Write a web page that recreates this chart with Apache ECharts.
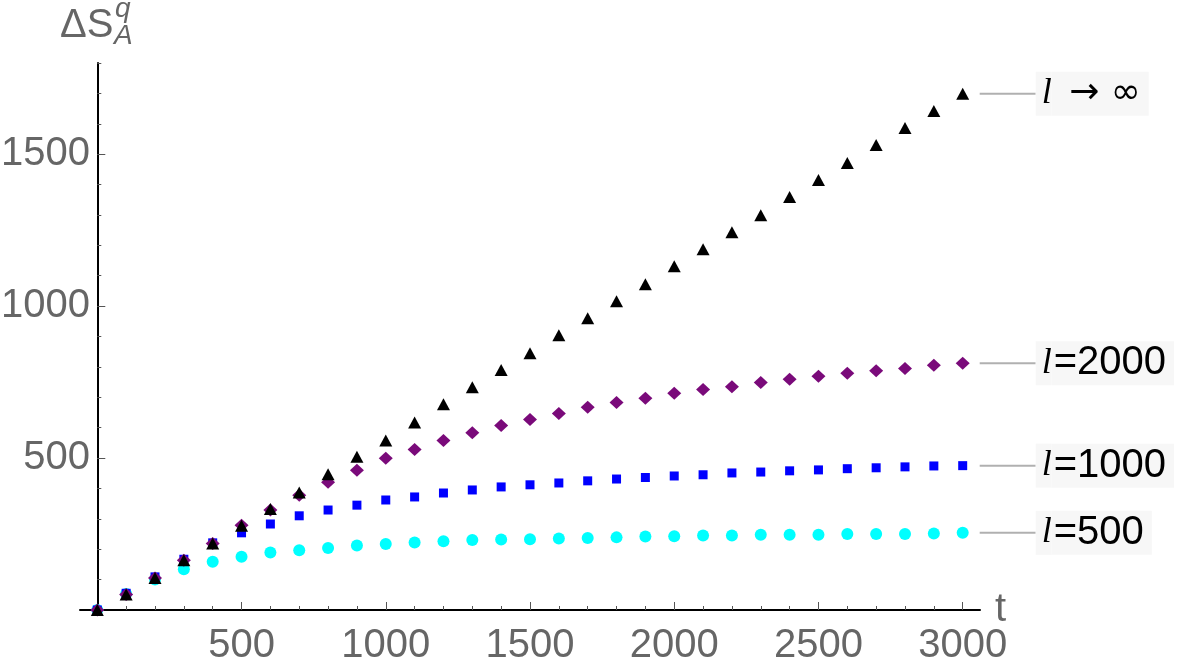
<!DOCTYPE html>
<html>
<head>
<meta charset="utf-8">
<script src="https://cdn.jsdelivr.net/npm/echarts@6/dist/echarts.min.js"></script>
<style>
html,body{margin:0;padding:0;background:#fff;}
#chart{width:1200px;height:667px;}
</style>
</head>
<body>
<div id="chart"></div>
<script>
// ---- data ----
const tValues = [0,100,200,300,400,500,600,700,800,900,1000,1100,1200,1300,1400,1500,1600,1700,1800,1900,2000,2100,2200,2300,2400,2500,2600,2700,2800,2900,3000];

const s500  = [0,53,100,134,159,175,189,197,204,212,217,222,226,230,232,233,235,237,239,242,243,245,245,248,248,248,250,250,250,252,254];
const s1000 = [0,55,109,167,221,254,283,310,329,345,362,372,385,395,405,412,418,425,431,436,441,445,451,454,458,461,465,468,471,474,475];
const s2000 = [0,51,105,164,219,279,329,378,420,460,499,528,558,583,607,627,647,667,683,697,713,726,735,749,759,769,779,787,795,805,812];
const sInf  = [0,51,105,164,219,277,332,387,447,504,558,617,677,733,790,845,904,960,1016,1072,1131,1187,1243,1299,1359,1415,1471,1530,1586,1642,1699];

const xTickLabels = [500,1000,1500,2000,2500,3000];
const yTickLabels = [500,1000,1500];
const seriesLabels = ['=500','=1000','=2000',' \u2192 \u221e'];

// minor tick positions
const xMinor = []; for (let v = 100; v <= 3000; v += 100) xMinor.push(v);
const yMinor = []; for (let v = 100; v <= 1800; v += 100) yMinor.push(v);

const SANS = 'Liberation Sans, Arial, sans-serif';
const SERIF = 'Liberation Serif, Times New Roman, serif';

function buildData(vals) {
  return tValues.map((t, i) => i === tValues.length - 1
    ? { value: [t, vals[i]], label: { show: true } }
    : [t, vals[i]]);
}

const richStyle = {
  ln: { width: 56, height: 2, backgroundColor: '#b0b0b0', verticalAlign: 'middle' },
  li: { fontFamily: SERIF, fontStyle: 'italic', fontSize: 36, color: '#000', backgroundColor: '#f7f7f7', height: 44, padding: [0, 0, 0, 6], verticalAlign: 'middle' },
  tx: { fontFamily: SANS, fontSize: 40, color: '#000', backgroundColor: '#f7f7f7', height: 44, padding: [0, 8, 0, 2], verticalAlign: 'middle' },
  ar: { fontFamily: 'DejaVu Sans', fontSize: 36, color: '#000', backgroundColor: '#f7f7f7', height: 44, padding: [0, 8, 0, 6], verticalAlign: 'middle' }
};

function mkSeries(name, vals, symbol, size, color, distance, labelText, fragStyle) {
  return {
    name: name,
    type: 'scatter',
    xAxisIndex: 0,
    yAxisIndex: 0,
    symbol: symbol,
    symbolSize: size,
    itemStyle: { color: color, opacity: 1 },
    data: buildData(vals),
    label: {
      show: false,
      position: 'right',
      distance: distance,
      formatter: '{ln|}{li|l}{' + fragStyle + '|' + labelText + '}',
      rich: richStyle
    },
    emphasis: { disabled: true },
    silent: true,
    animation: false
  };
}

const plainNum = v => String(v);

const chart = echarts.init(document.getElementById('chart'), null, { renderer: 'canvas' });

const option = {
  backgroundColor: '#ffffff',
  animation: false,
  grid: { left: 80, right: 220, top: 63, bottom: 57, containLabel: false, outerBoundsMode: 'none' },
  xAxis: [
    {
      type: 'value', min: -60, max: 3060, position: 'bottom',
      axisLine: { show: true, onZero: true, onZeroAxisIndex: 0, lineStyle: { color: '#000', width: 2 } },
      axisTick: { show: true, inside: true, length: 8, customValues: xTickLabels, lineStyle: { color: '#555', width: 1 } },
      axisLabel: { show: true, customValues: xTickLabels, formatter: plainNum, fontSize: 40, fontFamily: SANS, color: '#666', margin: 16 },
      splitLine: { show: false },
      name: 't', nameLocation: 'end', nameGap: 15, nameMoveOverlap: false,
      nameTextStyle: { fontSize: 40, fontFamily: SANS, color: '#666', verticalAlign: 'middle' }
    },
    {
      type: 'value', min: -60, max: 3060, position: 'bottom',
      axisLine: { show: false, onZero: true, onZeroAxisIndex: 0 },
      axisTick: { show: true, inside: true, length: 4, customValues: xMinor, lineStyle: { color: '#555', width: 1 } },
      axisLabel: { show: false },
      splitLine: { show: false }
    }
  ],
  yAxis: [
    {
      type: 'value', min: 0, max: 1800, position: 'left',
      axisLine: { show: true, onZero: true, onZeroAxisIndex: 0, lineStyle: { color: '#000', width: 2 } },
      axisTick: { show: true, inside: true, length: 8, customValues: yTickLabels, lineStyle: { color: '#555', width: 1 } },
      axisLabel: { show: true, customValues: yTickLabels, formatter: plainNum, fontSize: 40, fontFamily: SANS, color: '#666', margin: -10 },
      splitLine: { show: false }
    },
    {
      type: 'value', min: 0, max: 1800, position: 'left',
      axisLine: { show: false, onZero: true, onZeroAxisIndex: 0 },
      axisTick: { show: true, inside: true, length: 4, customValues: yMinor, lineStyle: { color: '#555', width: 1 } },
      axisLabel: { show: false },
      splitLine: { show: false }
    }
  ],
  graphic: [
    { type: 'text', x: 60, y: 26, style: { text: '\u0394S', fontSize: 40, fontFamily: SANS, fill: '#666', verticalAlign: 'middle', align: 'left' } },
    { type: 'text', x: 115, y: 9, style: { text: 'q', fontSize: 28, fontStyle: 'italic', fontFamily: SANS, fill: '#666', verticalAlign: 'middle', align: 'left' } },
    { type: 'text', x: 114, y: 36, style: { text: 'A', fontSize: 28, fontStyle: 'italic', fontFamily: SANS, fill: '#666', verticalAlign: 'middle', align: 'left' } }
  ],
  series: [
    mkSeries('l=500', s500, 'circle', 12, '#00ffff', 11, seriesLabels[0], 'tx'),
    mkSeries('l=1000', s1000, 'rect', 9, '#0000ff', 12.5, seriesLabels[1], 'tx'),
    mkSeries('l=2000', s2000, 'diamond', [14, 13], '#7a0a7a', 10, seriesLabels[2], 'tx'),
    mkSeries('l\u2192\u221e', sInf, 'triangle', [13, 12], '#000000', 10.5, seriesLabels[3], 'ar')
  ]
};

chart.setOption(option);
</script>
</body>
</html>
